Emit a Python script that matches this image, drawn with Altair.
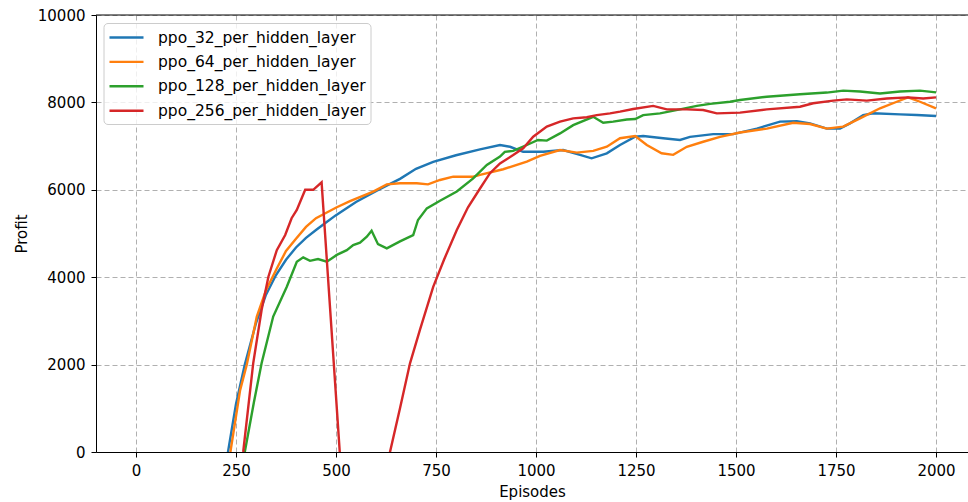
import altair as alt
import pandas as pd

SERIES = [
    "ppo_32_per_hidden_layer",
    "ppo_64_per_hidden_layer",
    "ppo_128_per_hidden_layer",
    "ppo_256_per_hidden_layer",
]
COLORS = ["#1f77b4", "#ff7f0e", "#2ca02c", "#d62728"]

X_TICKS = [0, 250, 500, 750, 1000, 1250, 1500, 1750, 2000]
Y_TICKS = [0, 2000, 4000, 6000, 8000, 10000]

# smoothed profit per episode, one pair of lists per network width
ep_32 = [0, 230, 250, 272, 300, 325, 350, 375, 400, 425, 450, 475, 500, 550, 602,
         660, 700, 743, 800, 860, 910, 935, 968, 1018, 1068, 1110, 1139, 1177, 1210,
         1248, 1268, 1318, 1360, 1385, 1443, 1493, 1552, 1610, 1652, 1685, 1727,
         1760, 1785, 1818, 1843, 1910, 1952, 2000]
profit_32 = [-12000, 0, 1100, 2000, 2950, 3600, 4050, 4400, 4680, 4900, 5080, 5250,
             5420, 5720, 5980, 6250, 6480, 6640, 6790, 6925, 7025, 6985, 6870, 6870,
             6910, 6800, 6720, 6835, 7025, 7215, 7230, 7180, 7140, 7210, 7275, 7275,
             7400, 7560, 7570, 7520, 7400, 7400, 7520, 7710, 7750, 7725, 7710, 7690]

ep_64 = [0, 236, 260, 277, 302, 325, 352, 375, 400, 425, 450, 477, 502, 535, 593,
         627, 660, 702, 730, 760, 793, 843, 860, 918, 977, 1010, 1060, 1102, 1143,
         1177, 1210, 1248, 1277, 1314, 1343, 1377, 1418, 1460, 1510, 1577, 1643,
         1685, 1727, 1768, 1810, 1860, 1902, 1930, 1960, 2000]
profit_64 = [-12000, 0, 1400, 2000, 3100, 3700, 4200, 4600, 4880, 5150, 5350, 5480,
             5600, 5740, 5960, 6125, 6150, 6150, 6125, 6225, 6300, 6300, 6340, 6470,
             6645, 6775, 6910, 6850, 6890, 6985, 7180, 7230, 7025, 6835, 6800, 6985,
             7100, 7210, 7310, 7400, 7535, 7505, 7400, 7445, 7635, 7865, 8015, 8115,
             8015, 7865]

ep_128 = [0, 272, 295, 314, 343, 377, 402, 418, 435, 455, 477, 502, 527, 543, 560,
          577, 589, 605, 627, 660, 693, 705, 727, 760, 802, 843, 877, 910, 922, 943,
          977, 1005, 1027, 1060, 1093, 1143, 1168, 1193, 1227, 1248, 1268, 1310,
          1360, 1402, 1435, 1485, 1510, 1577, 1660, 1727, 1768, 1810, 1860, 1910,
          1960, 2000]
profit_128 = [-15000, 0, 1150, 2030, 3100, 3780, 4355, 4455, 4375, 4415, 4355, 4510,
              4620, 4735, 4790, 4925, 5065, 4755, 4660, 4820, 4965, 5310, 5575, 5750,
              5960, 6260, 6570, 6760, 6870, 6890, 7025, 7140, 7125, 7290, 7480, 7670,
              7535, 7560, 7610, 7620, 7710, 7750, 7840, 7920, 7965, 8015, 8055, 8130,
              8185, 8225, 8270, 8250, 8205, 8250, 8270, 8230]

ep_256 = [0, 268, 293, 314, 331, 352, 373, 389, 402, 423, 443, 464, 530, 600, 635,
          660, 685, 710, 743, 770, 802, 830, 860, 885, 910, 943, 968, 993, 1027,
          1060, 1093, 1127, 1152, 1185, 1210, 1243, 1293, 1327, 1377, 1418, 1452,
          1510, 1577, 1660, 1693, 1743, 1777, 1827, 1877, 1930, 1968, 2000]
profit_256 = [-15000, 0, 2030, 3250, 4010, 4620, 4965, 5350, 5540, 6000, 6000, 6170,
              -2800, -1600, 0, 1000, 2030, 2800, 3780, 4400, 5080, 5600, 6030, 6380,
              6605, 6795, 6950, 7215, 7445, 7560, 7635, 7660, 7710, 7750, 7790, 7850,
              7920, 7840, 7840, 7825, 7750, 7765, 7840, 7900, 7980, 8040, 8070, 8040,
              8090, 8115, 8090, 8115]

rows = []
for name, eps, vals in zip(SERIES, [ep_32, ep_64, ep_128, ep_256],
                           [profit_32, profit_64, profit_128, profit_256]):
    for e, v in zip(eps, vals):
        rows.append({"series": name, "episode": e, "profit": v})
df = pd.DataFrame(rows)

FONT = "DejaVu Sans"

lines = alt.Chart(df).mark_line(strokeWidth=2.4, clip=True).encode(
    x=alt.X(
        "episode:Q",
        scale=alt.Scale(domain=[-100, 2080], nice=False, zero=False),
        axis=alt.Axis(values=X_TICKS, title="Episodes", format="d",
                      labelPadding=6, titlePadding=6),
    ),
    y=alt.Y(
        "profit:Q",
        scale=alt.Scale(domain=[0, 10000], nice=False),
        axis=alt.Axis(values=Y_TICKS, title="Profit", format="d",
                      labelPadding=6, titlePadding=8),
    ),
    color=alt.Color(
        "series:N",
        sort=SERIES,
        scale=alt.Scale(domain=SERIES, range=COLORS),
        legend=alt.Legend(
            title=None,
            orient="none",
            legendX=7.5,
            legendY=8,
            # horizontal stroke starting at the symbol box's left edge,
            # twice as long as the box is wide
            symbolType="M-1,0H3",
            symbolSize=289,
            symbolStrokeWidth=2.4,
            labelFont=FONT,
            labelFontSize=15.5,
            labelColor="black",
            labelLimit=400,
            labelOffset=30,
            fillColor="rgba(255,255,255,0.8)",
            strokeColor="#cccccc",
            cornerRadius=4,
            padding=4.5,
            rowPadding=5.4,
        ),
    ),
)

# top border of the plot frame
top_frame = alt.Chart(pd.DataFrame({"profit": [10000]})).mark_rule(
    color="black", strokeWidth=1
).encode(y="profit:Q")

chart = alt.layer(lines, top_frame).properties(
    width=872,
    height=437,
    autosize=alt.AutoSizeParams(type="none"),
    padding={"left": 96, "top": 15, "right": 0, "bottom": 50},
).configure_view(stroke=None).configure_axis(
    domainColor="black",
    domainWidth=1,
    tickColor="black",
    tickSize=5,
    tickWidth=1,
    labelFont=FONT,
    labelFontSize=15,
    labelColor="black",
    titleFont=FONT,
    titleFontSize=15,
    titleFontWeight="normal",
    titleColor="black",
    gridColor="#b0b0b0",
    gridDash=[5, 3],
    gridWidth=1,
)

chart.save("out.html", embed_options={"renderer": "svg", "actions": False})
